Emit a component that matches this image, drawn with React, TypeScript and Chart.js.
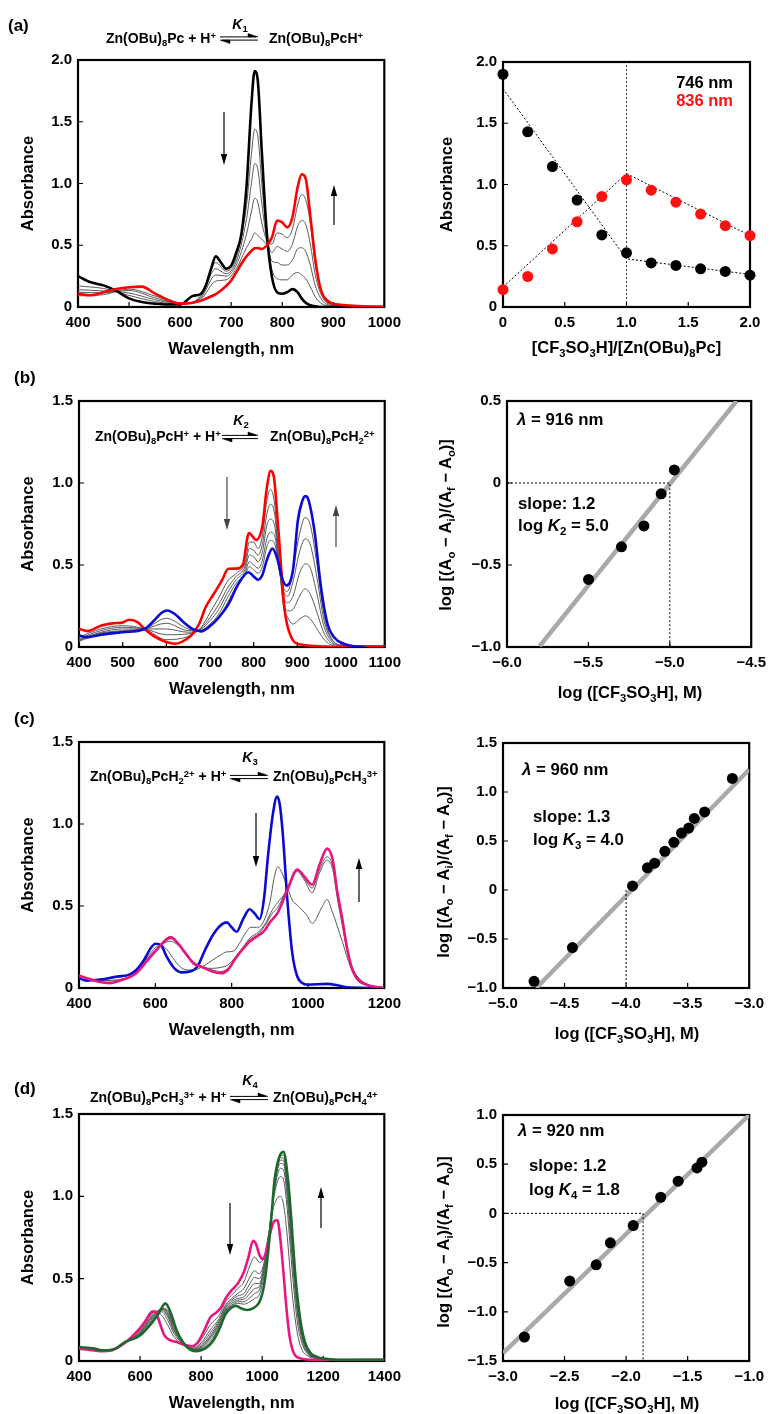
import React, { useEffect, useRef } from "react";
import { Chart, registerables } from "chart.js";
Chart.register(...registerables);

const FONT = '"Liberation Sans", Arial, Helvetica, sans-serif';

// ---------------- (a) spectra ----------------
const aWl = [400, 425, 450, 475, 500, 525, 550, 575, 600, 625, 640, 650, 660, 670, 680, 690, 700, 710, 720, 730, 740, 746, 752, 760, 770, 780, 790, 800, 810, 820, 830, 838, 846, 855, 865, 875, 890, 910, 940, 1000];
const aBlack = [0.25, 0.2, 0.175, 0.13, 0.07, 0.04, 0.027, 0.02, 0.02, 0.09, 0.105, 0.17, 0.3, 0.41, 0.36, 0.31, 0.335, 0.44, 0.59, 0.97, 1.66, 1.91, 1.84, 1.26, 0.59, 0.24, 0.12, 0.107, 0.12, 0.145, 0.12, 0.07, 0.035, 0.015, 0.005, 0, 0, 0, 0, 0];
const aRed = [0.107, 0.095, 0.12, 0.145, 0.16, 0.165, 0.11, 0.06, 0.027, 0.035, 0.05, 0.067, 0.085, 0.105, 0.134, 0.17, 0.215, 0.28, 0.35, 0.41, 0.456, 0.475, 0.478, 0.47, 0.5, 0.564, 0.7, 0.685, 0.645, 0.725, 0.966, 1.074, 1.04, 0.74, 0.38, 0.15, 0.046, 0.02, 0.01, 0];
const aGrayWl = [400, 450, 500, 550, 600, 640, 670, 690, 710, 730, 740, 746, 752, 760, 770, 780, 790, 800, 810, 820, 830, 838, 846, 855, 865, 880, 900, 950, 1000];
const aGray1 = [0.17, 0.15, 0.094, 0.045, 0.022, 0.09, 0.36, 0.29, 0.4, 0.82, 1.25, 1.44, 1.39, 1.0, 0.56, 0.3, 0.23, 0.22, 0.22, 0.26, 0.28, 0.26, 0.23, 0.165, 0.08, 0.02, 0.005, 0, 0];
const aGray2 = [0.14, 0.13, 0.113, 0.06, 0.024, 0.08, 0.31, 0.27, 0.37, 0.71, 1.01, 1.16, 1.12, 0.84, 0.54, 0.37, 0.36, 0.34, 0.34, 0.38, 0.47, 0.48, 0.45, 0.34, 0.17, 0.045, 0.01, 0, 0];
const aGray3 = [0.12, 0.115, 0.134, 0.075, 0.025, 0.07, 0.26, 0.25, 0.34, 0.59, 0.78, 0.88, 0.85, 0.68, 0.53, 0.44, 0.49, 0.47, 0.45, 0.51, 0.65, 0.7, 0.67, 0.51, 0.255, 0.07, 0.015, 0, 0];
const aGray4 = [0.09, 0.1, 0.145, 0.09, 0.026, 0.06, 0.21, 0.22, 0.31, 0.48, 0.55, 0.6, 0.58, 0.55, 0.51, 0.51, 0.6, 0.59, 0.56, 0.63, 0.82, 0.91, 0.87, 0.68, 0.335, 0.09, 0.02, 0, 0];

// ---------------- (a) titration ----------------
const aRatio = [0, 0.2, 0.4, 0.6, 0.8, 1.0, 1.2, 1.4, 1.6, 1.8, 2.0];
const aAbs746 = [1.9, 1.43, 1.146, 0.873, 0.588, 0.442, 0.36, 0.339, 0.312, 0.29, 0.26];
const aAbs836 = [0.141, 0.249, 0.474, 0.696, 0.902, 1.038, 0.954, 0.856, 0.759, 0.664, 0.583];
const aFitX = [0, 1, 2];
const aFit746 = [1.783, 0.393, 0.266];
const aFit836 = [0.163, 1.089, 0.583];
const aRefX = [1, 1];
const aRefY = [0, 2];

// ---------------- (b) spectra ----------------
const bRedWl = [400, 420, 450, 480, 500, 515, 535, 550, 575, 600, 620, 650, 660, 675, 690, 709, 727, 742, 760, 775, 789, 806, 820, 830, 839, 846, 856, 871, 886, 908, 950, 1000, 1100];
const bRed = [0.11, 0.097, 0.13, 0.145, 0.15, 0.166, 0.15, 0.11, 0.06, 0.03, 0.02, 0.055, 0.08, 0.14, 0.243, 0.325, 0.405, 0.477, 0.478, 0.5, 0.695, 0.653, 0.74, 0.97, 1.074, 1.04, 0.73, 0.223, 0.06, 0.015, 0.005, 0, 0];
const bBlueWl = [400, 420, 450, 500, 550, 575, 590, 602, 620, 640, 660, 680, 697, 720, 742, 765, 788, 800, 810, 820, 830, 843, 855, 865, 875, 890, 901, 910, 918, 925, 939, 954, 969, 984, 1006, 1030, 1055];
const bBlue = [0.07, 0.06, 0.075, 0.09, 0.11, 0.17, 0.21, 0.223, 0.2, 0.15, 0.11, 0.095, 0.12, 0.18, 0.26, 0.385, 0.456, 0.43, 0.41, 0.44, 0.53, 0.6, 0.53, 0.42, 0.375, 0.47, 0.77, 0.88, 0.92, 0.9, 0.71, 0.365, 0.14, 0.06, 0.02, 0.005, 0];
const bGrayWl = [400, 450, 500, 550, 600, 650, 680, 700, 720, 740, 760, 780, 790, 800, 810, 820, 830, 838, 848, 858, 868, 878, 890, 905, 918, 930, 945, 960, 975, 1000, 1050, 1100];
const bGray1 = [0.06, 0.11, 0.13, 0.11, 0.045, 0.065, 0.12, 0.21, 0.3, 0.4, 0.45, 0.51, 0.64, 0.64, 0.6, 0.68, 0.89, 0.96, 0.87, 0.53, 0.25, 0.18, 0.14, 0.17, 0.19, 0.17, 0.11, 0.05, 0.015, 0, 0.005, 0.01];
const bGray2 = [0.05, 0.1, 0.12, 0.11, 0.075, 0.08, 0.115, 0.18, 0.26, 0.36, 0.43, 0.49, 0.6, 0.59, 0.56, 0.63, 0.81, 0.87, 0.81, 0.52, 0.28, 0.22, 0.23, 0.31, 0.355, 0.32, 0.21, 0.09, 0.03, 0.005, 0.005, 0.01];
const bGray3 = [0.045, 0.09, 0.11, 0.11, 0.11, 0.09, 0.11, 0.16, 0.23, 0.33, 0.41, 0.47, 0.56, 0.55, 0.52, 0.58, 0.74, 0.78, 0.74, 0.5, 0.31, 0.27, 0.31, 0.45, 0.507, 0.48, 0.32, 0.135, 0.045, 0.005, 0.005, 0.01];
const bGray4 = [0.04, 0.085, 0.1, 0.11, 0.145, 0.1, 0.105, 0.14, 0.2, 0.3, 0.39, 0.45, 0.52, 0.5, 0.48, 0.53, 0.66, 0.7, 0.68, 0.48, 0.34, 0.31, 0.4, 0.58, 0.66, 0.62, 0.42, 0.175, 0.06, 0.01, 0.005, 0.01];
const bGray5 = [0.035, 0.08, 0.095, 0.11, 0.175, 0.11, 0.1, 0.125, 0.18, 0.27, 0.37, 0.44, 0.49, 0.47, 0.45, 0.49, 0.61, 0.65, 0.63, 0.47, 0.36, 0.34, 0.47, 0.69, 0.79, 0.74, 0.5, 0.21, 0.07, 0.01, 0.005, 0.01];

// ---------------- (b) Hill plot ----------------
const bLogC = [-5.499, -5.297, -5.159, -5.053, -4.972];
const bLogR = [-0.588, -0.389, -0.262, -0.066, 0.08];
const bFitX = [-5.8, -4.59];
const bFitY = [-0.995, 0.5];
const bRefX = [-6, -5.0, -5.0];
const bRefY = [0, 0, -1];

// ---------------- (c) spectra ----------------
const cBlueWl = [400, 420, 450, 500, 530, 550, 570, 590, 600, 615, 630, 650, 670, 690, 710, 730, 750, 770, 787, 800, 813, 830, 847, 860, 873, 885, 895, 908, 919, 926, 934, 946, 959, 972, 985, 1000, 1050, 1080, 1100, 1200];
const cBlue = [0.06, 0.045, 0.05, 0.07, 0.08, 0.11, 0.17, 0.25, 0.27, 0.26, 0.19, 0.12, 0.095, 0.1, 0.13, 0.23, 0.32, 0.38, 0.4, 0.37, 0.343, 0.42, 0.48, 0.455, 0.42, 0.55, 0.8, 1.06, 1.167, 1.12, 0.94, 0.535, 0.21, 0.07, 0.03, 0.02, 0.025, 0.015, 0.005, 0];
const cMagWl = [400, 450, 480, 500, 550, 580, 610, 640, 660, 680, 700, 720, 750, 770, 790, 810, 830, 850, 870, 886, 900, 920, 946, 972, 990, 1011, 1030, 1050, 1065, 1076, 1090, 1102, 1115, 1128, 1154, 1200];
const cMag = [0.075, 0.04, 0.03, 0.04, 0.09, 0.17, 0.25, 0.31, 0.27, 0.21, 0.15, 0.13, 0.1, 0.09, 0.11, 0.18, 0.24, 0.29, 0.32, 0.35, 0.4, 0.456, 0.596, 0.723, 0.68, 0.63, 0.75, 0.85, 0.78, 0.6, 0.42, 0.25, 0.12, 0.06, 0.02, 0];
const cGrayAWl = [400, 450, 500, 550, 580, 600, 615, 630, 650, 670, 690, 710, 730, 750, 770, 787, 805, 820, 835, 850, 865, 880, 900, 912, 921, 930, 946, 959, 972, 998, 1011, 1037, 1050, 1063, 1089, 1111, 1128, 1155, 1200];
const cGrayA = [0.07, 0.05, 0.065, 0.1, 0.19, 0.245, 0.26, 0.235, 0.17, 0.12, 0.11, 0.115, 0.14, 0.17, 0.2, 0.22, 0.225, 0.27, 0.33, 0.37, 0.37, 0.39, 0.52, 0.68, 0.74, 0.71, 0.616, 0.535, 0.505, 0.44, 0.394, 0.495, 0.54, 0.47, 0.29, 0.13, 0.05, 0.015, 0];
const cGrayWl = [400, 450, 500, 550, 580, 600, 620, 640, 660, 680, 700, 720, 750, 770, 790, 810, 830, 850, 870, 890, 905, 920, 940, 955, 972, 990, 1011, 1030, 1050, 1065, 1076, 1090, 1102, 1115, 1128, 1154, 1200];
const cGrayB = [0.075, 0.045, 0.05, 0.095, 0.18, 0.23, 0.27, 0.285, 0.26, 0.2, 0.15, 0.125, 0.12, 0.125, 0.14, 0.19, 0.25, 0.31, 0.34, 0.4, 0.47, 0.52, 0.58, 0.65, 0.71, 0.66, 0.58, 0.7, 0.78, 0.72, 0.56, 0.38, 0.23, 0.13, 0.07, 0.02, 0];
const cGrayC = [0.08, 0.043, 0.045, 0.092, 0.175, 0.22, 0.27, 0.3, 0.27, 0.21, 0.16, 0.135, 0.11, 0.1, 0.12, 0.185, 0.245, 0.3, 0.33, 0.39, 0.45, 0.49, 0.58, 0.66, 0.72, 0.67, 0.61, 0.72, 0.8, 0.74, 0.58, 0.4, 0.24, 0.135, 0.075, 0.025, 0];

// ---------------- (c) Hill plot ----------------
const cLogC = [-4.748, -4.436, -3.948, -3.827, -3.768, -3.685, -3.612, -3.55, -3.491, -3.446, -3.362, -3.137];
const cLogR = [-0.932, -0.588, 0.041, 0.226, 0.274, 0.395, 0.486, 0.581, 0.632, 0.73, 0.797, 1.139];
const cFitX = [-4.73, -3.0];
const cFitY = [-1.0, 1.23];
const cRefX = [-4.0, -4.0];
const cRefY = [-1, 0];

// ---------------- (d) spectra ----------------
const dMagWl = [400, 450, 480, 500, 530, 560, 600, 620, 640, 650, 660, 680, 700, 720, 750, 770, 790, 810, 830, 850, 865, 880, 900, 920, 940, 955, 970, 980, 990, 1000, 1010, 1025, 1040, 1050, 1060, 1070, 1080, 1090, 1100, 1110, 1130, 1200, 1300, 1400];
const dMag = [0.075, 0.064, 0.06, 0.062, 0.085, 0.125, 0.2, 0.25, 0.3, 0.3, 0.255, 0.155, 0.125, 0.115, 0.095, 0.09, 0.115, 0.185, 0.265, 0.295, 0.325, 0.38, 0.43, 0.47, 0.54, 0.63, 0.73, 0.71, 0.65, 0.62, 0.645, 0.77, 0.85, 0.855, 0.73, 0.53, 0.31, 0.145, 0.065, 0.03, 0.014, 0.005, 0.006, 0.008];
const dGreenWl = [400, 450, 480, 520, 550, 600, 640, 660, 683, 700, 720, 740, 760, 780, 800, 820, 840, 860, 880, 900, 915, 930, 950, 970, 990, 1000, 1010, 1020, 1030, 1040, 1055, 1070, 1085, 1095, 1110, 1125, 1140, 1160, 1180, 1200, 1250, 1400];
const dGreen = [0.085, 0.075, 0.065, 0.075, 0.115, 0.155, 0.235, 0.285, 0.35, 0.295, 0.185, 0.115, 0.075, 0.06, 0.065, 0.085, 0.125, 0.195, 0.285, 0.325, 0.335, 0.32, 0.31, 0.32, 0.355, 0.405, 0.505, 0.67, 0.87, 1.09, 1.234, 1.27, 1.093, 0.87, 0.49, 0.25, 0.115, 0.045, 0.025, 0.015, 0.008, 0.008];
const dGrayWl = [400, 500, 560, 600, 630, 650, 670, 690, 710, 740, 770, 800, 830, 860, 880, 900, 920, 940, 960, 975, 990, 1005, 1020, 1035, 1050, 1060, 1070, 1080, 1090, 1100, 1115, 1130, 1150, 1175, 1200, 1300, 1400];
const dGray1 = [0.08, 0.065, 0.12, 0.19, 0.27, 0.3, 0.28, 0.22, 0.15, 0.1, 0.083, 0.13, 0.22, 0.28, 0.36, 0.4, 0.44, 0.48, 0.58, 0.633, 0.6, 0.62, 0.76, 0.92, 0.99, 1.0, 0.95, 0.8, 0.58, 0.38, 0.17, 0.07, 0.03, 0.015, 0.01, 0.008, 0.008];
const dGray2 = [0.08, 0.065, 0.12, 0.18, 0.26, 0.3, 0.3, 0.25, 0.17, 0.105, 0.077, 0.11, 0.19, 0.26, 0.34, 0.38, 0.41, 0.44, 0.51, 0.548, 0.53, 0.59, 0.75, 0.96, 1.09, 1.12, 1.1, 0.96, 0.74, 0.51, 0.24, 0.11, 0.04, 0.018, 0.01, 0.008, 0.008];
const dGray3 = [0.08, 0.065, 0.12, 0.175, 0.25, 0.295, 0.31, 0.27, 0.185, 0.105, 0.075, 0.1, 0.17, 0.25, 0.33, 0.37, 0.395, 0.41, 0.47, 0.508, 0.5, 0.57, 0.74, 0.97, 1.13, 1.17, 1.16, 1.03, 0.81, 0.58, 0.29, 0.13, 0.045, 0.02, 0.01, 0.008, 0.008];
const dGray4 = [0.08, 0.065, 0.12, 0.17, 0.245, 0.29, 0.315, 0.28, 0.195, 0.11, 0.072, 0.09, 0.155, 0.24, 0.32, 0.36, 0.38, 0.39, 0.44, 0.47, 0.47, 0.56, 0.73, 0.975, 1.16, 1.2, 1.195, 1.07, 0.86, 0.63, 0.32, 0.15, 0.05, 0.022, 0.01, 0.008, 0.008];
const dGray5 = [0.08, 0.065, 0.12, 0.167, 0.24, 0.285, 0.32, 0.29, 0.205, 0.11, 0.07, 0.085, 0.145, 0.23, 0.31, 0.35, 0.37, 0.375, 0.41, 0.44, 0.45, 0.55, 0.72, 0.98, 1.17, 1.22, 1.215, 1.1, 0.89, 0.66, 0.34, 0.16, 0.055, 0.024, 0.01, 0.008, 0.008];
const dGray6 = [0.08, 0.065, 0.12, 0.164, 0.23, 0.28, 0.32, 0.3, 0.215, 0.11, 0.067, 0.08, 0.135, 0.22, 0.305, 0.34, 0.36, 0.36, 0.385, 0.41, 0.43, 0.53, 0.71, 0.98, 1.18, 1.235, 1.23, 1.12, 0.92, 0.69, 0.36, 0.17, 0.06, 0.026, 0.01, 0.008, 0.008];
const dGray7 = [0.08, 0.065, 0.12, 0.16, 0.22, 0.27, 0.32, 0.31, 0.225, 0.115, 0.065, 0.075, 0.12, 0.21, 0.3, 0.335, 0.35, 0.345, 0.36, 0.38, 0.4, 0.51, 0.7, 0.98, 1.19, 1.245, 1.25, 1.14, 0.95, 0.72, 0.38, 0.18, 0.065, 0.028, 0.01, 0.008, 0.008];

// ---------------- (d) Hill plot ----------------
const dLogC = [-2.826, -2.458, -2.243, -2.128, -1.942, -1.719, -1.577, -1.424, -1.384];
const dLogR = [-1.256, -0.688, -0.522, -0.299, -0.123, 0.164, 0.327, 0.462, 0.52];
const dFitX = [-3.0, -1.0];
const dFitY = [-1.419, 1.0];
const dRefX = [-3, -1.862, -1.862];
const dRefY = [0, 0, -1.5];

// ---------------- styling ----------------
const RED = "#ff0000";
const BLUE = "#0a0ad2";
const MAGENTA = "#e8177f";
const GREEN = "#1b6a2c";
const GRAY = "#5a5a5a";
const FIT = "#a9a9a9";

type Series = { x: number[]; y: number[]; color: string; width?: number; dash?: number[]; radius?: number; smooth?: boolean };
type Panel = {
  L: number; T: number; R: number; B: number; cl: number;
  xMin: number; xMax: number; xStep: number; yMin: number; yMax: number; yStep: number;
  xFmt: (v: number) => string; yFmt: (v: number) => string;
  yTitle?: string; yTitlePad?: number; xTitle?: string;
  series: Series[];
};

const fmt1 = (v: number) => (Math.abs(v) < 1e-9 ? "0" : v.toFixed(1).replace("-", "\u2212"));
const fmtInt = (v: number) => String(Math.round(v));
const zip = (x: number[], y: number[]) => x.map((v, i) => ({ x: v, y: y[i] }));

const PAD_TOP = 14;
const PAD_RIGHT = 20;
const HX = 60;

const line = (x: number[], y: number[], color: string, width = 1): Series => ({ x, y, color, width, smooth: true });

const panels: Panel[] = [
  {
    L: 78, T: 59, R: 388, B: 307, cl: 0,
    xMin: 400, xMax: 1000, xStep: 100, yMin: 0, yMax: 2, yStep: 0.5, xFmt: fmtInt, yFmt: fmt1,
    yTitle: "Absorbance", yTitlePad: 19, xTitle: "Wavelength, nm",
    series: [line(aWl, aRed, RED, 2.6), line(aWl, aBlack, "#000", 2.6), line(aGrayWl, aGray1, GRAY), line(aGrayWl, aGray2, GRAY), line(aGrayWl, aGray3, GRAY), line(aGrayWl, aGray4, GRAY)],
  },
  {
    L: 503, T: 61, R: 750, B: 307, cl: 400,
    xMin: 0, xMax: 2, xStep: 0.5, yMin: 0, yMax: 2, yStep: 0.5, xFmt: fmt1, yFmt: fmt1,
    yTitle: "Absorbance", yTitlePad: 38,
    series: [
      { x: aRatio, y: aAbs746, color: "#000", radius: 5.5 },
      { x: aRatio, y: aAbs836, color: "#ff1010", radius: 5.5 },
      { x: aFitX, y: aFit746, color: "#000", width: 1, dash: [2, 2] },
      { x: aFitX, y: aFit836, color: "#000", width: 1, dash: [2, 2] },
      { x: aRefX, y: aRefY, color: "#333", width: 1, dash: [2, 2] },
    ],
  },
  {
    L: 79, T: 400, R: 388, B: 647, cl: 0,
    xMin: 400, xMax: 1100, xStep: 100, yMin: 0, yMax: 1.5, yStep: 0.5, xFmt: fmtInt, yFmt: fmt1,
    yTitle: "Absorbance", yTitlePad: 19, xTitle: "Wavelength, nm",
    series: [line(bBlueWl, bBlue, BLUE, 2.6), line(bRedWl, bRed, RED, 2.6), line(bGrayWl, bGray1, GRAY), line(bGrayWl, bGray2, GRAY), line(bGrayWl, bGray3, GRAY), line(bGrayWl, bGray4, GRAY), line(bGrayWl, bGray5, GRAY)],
  },
  {
    L: 507, T: 400, R: 753, B: 647, cl: 400,
    xMin: -6, xMax: -4.5, xStep: 0.5, yMin: -1, yMax: 0.5, yStep: 0.5, xFmt: fmt1, yFmt: fmt1,
    series: [
      { x: bLogC, y: bLogR, color: "#000", radius: 5.5 },
      { x: bRefX, y: bRefY, color: "#000", width: 1, dash: [2, 2] },
      { x: bFitX, y: bFitY, color: FIT, width: 4.5 },
    ],
  },
  {
    L: 79, T: 741, R: 388, B: 988, cl: 0,
    xMin: 400, xMax: 1200, xStep: 200, yMin: 0, yMax: 1.5, yStep: 0.5, xFmt: fmtInt, yFmt: fmt1,
    yTitle: "Absorbance", yTitlePad: 19, xTitle: "Wavelength, nm",
    series: [line(cMagWl, cMag, MAGENTA, 2.6), line(cBlueWl, cBlue, BLUE, 2.6), line(cGrayAWl, cGrayA, GRAY), line(cGrayWl, cGrayB, GRAY), line(cGrayWl, cGrayC, GRAY)],
  },
  {
    L: 503, T: 742, R: 751, B: 988, cl: 400,
    xMin: -5, xMax: -3, xStep: 0.5, yMin: -1, yMax: 1.5, yStep: 0.5, xFmt: fmt1, yFmt: fmt1,
    series: [
      { x: cLogC, y: cLogR, color: "#000", radius: 5.5 },
      { x: cRefX, y: cRefY, color: "#000", width: 1, dash: [2, 2] },
      { x: cFitX, y: cFitY, color: FIT, width: 4.5 },
    ],
  },
  {
    L: 79, T: 1113, R: 388, B: 1361, cl: 0,
    xMin: 400, xMax: 1400, xStep: 200, yMin: 0, yMax: 1.5, yStep: 0.5, xFmt: fmtInt, yFmt: fmt1,
    yTitle: "Absorbance", yTitlePad: 19, xTitle: "Wavelength, nm",
    series: [line(dGreenWl, dGreen, GREEN, 2.6), line(dMagWl, dMag, MAGENTA, 2.6), line(dGrayWl, dGray1, GRAY), line(dGrayWl, dGray2, GRAY), line(dGrayWl, dGray3, GRAY), line(dGrayWl, dGray4, GRAY), line(dGrayWl, dGray5, GRAY), line(dGrayWl, dGray6, GRAY), line(dGrayWl, dGray7, GRAY)],
  },
  {
    L: 503, T: 1114, R: 751, B: 1361, cl: 400,
    xMin: -3, xMax: -1, xStep: 0.5, yMin: -1.5, yMax: 1, yStep: 0.5, xFmt: fmt1, yFmt: fmt1,
    series: [
      { x: dLogC, y: dLogR, color: "#000", radius: 5.5 },
      { x: dRefX, y: dRefY, color: "#000", width: 1, dash: [2, 2] },
      { x: dFitX, y: dFitY, color: FIT, width: 4.5 },
    ],
  },
];

const framePlugin = {
  id: "frameTicks",
  beforeDatasetsDraw(chart: any) {
    const { ctx, chartArea: a, scales } = chart;
    ctx.save();
    ctx.strokeStyle = "#000";
    ctx.lineWidth = 1.2;
    ctx.beginPath();
    scales.x.ticks.forEach((t: any) => {
      const px = scales.x.getPixelForValue(t.value);
      ctx.moveTo(px, a.bottom);
      ctx.lineTo(px, a.bottom - 5);
    });
    scales.y.ticks.forEach((t: any) => {
      const py = scales.y.getPixelForValue(t.value);
      ctx.moveTo(a.left, py);
      ctx.lineTo(a.left + 5, py);
    });
    ctx.stroke();
    ctx.lineWidth = 2.2;
    ctx.strokeRect(a.left, a.top, a.right - a.left, a.bottom - a.top);
    ctx.restore();
  },
};

function ChartPanel({ p }: { p: Panel }) {
  const ref = useRef<HTMLCanvasElement>(null);
  const width = p.R - p.cl + PAD_RIGHT;
  const height = p.B - p.T + PAD_TOP + HX;
  useEffect(() => {
    const wy = p.L - p.cl;
    const tickFont = { family: FONT, size: 15, weight: "bold" as const };
    const titleFont = { family: FONT, size: 16.5, weight: "bold" as const };
    const chart = new Chart(ref.current as HTMLCanvasElement, {
      type: "scatter",
      data: {
        datasets: p.series.map((s) => ({
          data: zip(s.x, s.y),
          showLine: !s.radius,
          borderColor: s.color,
          backgroundColor: s.color,
          borderWidth: s.width ?? 1,
          borderDash: s.dash ?? [],
          pointRadius: s.radius ?? 0,
          pointHoverRadius: 0,
          pointBackgroundColor: s.color,
          pointBorderColor: s.color,
          pointBorderWidth: 0,
          cubicInterpolationMode: s.smooth ? "monotone" : "default",
          tension: 0,
          fill: false,
          clip: s.radius ? false : 0,
        })) as any,
      },
      options: {
        animation: false,
        responsive: false,
        maintainAspectRatio: false,
        events: [],
        layout: { padding: { top: PAD_TOP, right: PAD_RIGHT, left: 0, bottom: 0 } },
        plugins: { legend: { display: false }, tooltip: { enabled: false } },
        scales: {
          x: {
            type: "linear",
            min: p.xMin,
            max: p.xMax,
            afterFit: (s: any) => { s.height = HX; },
            grid: { display: false, drawTicks: false },
            border: { display: false },
            ticks: { stepSize: p.xStep, autoSkip: false, maxRotation: 0, padding: 7, color: "#000", font: tickFont, callback: (v: any) => p.xFmt(Number(v)) },
            title: { display: !!p.xTitle, text: p.xTitle ?? "", color: "#000", font: titleFont, padding: { top: 0, bottom: 8 } },
          },
          y: {
            type: "linear",
            min: p.yMin,
            max: p.yMax,
            afterFit: (s: any) => { s.width = wy; },
            grid: { display: false, drawTicks: false },
            border: { display: false },
            ticks: { stepSize: p.yStep, autoSkip: false, padding: 6, color: "#000", font: tickFont, callback: (v: any) => p.yFmt(Number(v)) },
            title: { display: !!p.yTitle, text: p.yTitle ?? "", color: "#000", font: titleFont, padding: { top: p.yTitlePad ?? 0, bottom: 0 } },
          },
        },
      } as any,
      plugins: [framePlugin],
    });
    return () => chart.destroy();
  }, []);
  return (
    <canvas
      ref={ref}
      width={width}
      height={height}
      style={{ position: "absolute", left: p.cl, top: p.T - PAD_TOP, width, height }}
    />
  );
}

const subStyle: React.CSSProperties = { fontSize: "0.68em", position: "relative", top: "0.32em", lineHeight: 0 };
const supStyle: React.CSSProperties = { fontSize: "0.68em", position: "relative", top: "-0.42em", lineHeight: 0 };
const Sub = ({ children }: { children: React.ReactNode }) => <span style={subStyle}>{children}</span>;
const Sup = ({ children }: { children: React.ReactNode }) => <span style={supStyle}>{children}</span>;

function T({ x, y, size = 16, color = "#000", anchor = "left", rotate = false, weight = 700, children }: any) {
  const tx = anchor === "left" ? "0" : anchor === "center" ? "-50%" : "-100%";
  return (
    <div
      style={{
        position: "absolute", left: x, top: y,
        transform: `translate(${rotate ? "-50%" : tx}, -50%)${rotate ? " rotate(-90deg)" : ""}`,
        fontSize: size, fontWeight: weight, lineHeight: 1, whiteSpace: "nowrap", color, fontFamily: FONT,
      }}
    >
      {children}
    </div>
  );
}

const Zn = () => <>Zn(OBu)<Sub>8</Sub>Pc</>;

function EqArrow({ x1, x2, y }: { x1: number; x2: number; y: number }) {
  return (
    <g fill="#000" stroke="#000">
      <line x1={x1} y1={y - 1.6} x2={x2 - 2} y2={y - 1.6} strokeWidth={1} />
      <polygon points={`${x2},${y - 1.6} ${x2 - 10},${y - 5} ${x2 - 10},${y - 1.6}`} strokeWidth={0.5} />
      <line x1={x1 + 2} y1={y + 1.6} x2={x2} y2={y + 1.6} strokeWidth={1} />
      <polygon points={`${x1},${y + 1.6} ${x1 + 10},${y + 5} ${x1 + 10},${y + 1.6}`} strokeWidth={0.5} />
    </g>
  );
}

function VArrow({ x, y1, y2, color = "#000" }: { x: number; y1: number; y2: number; color?: string }) {
  const dir = y2 > y1 ? 1 : -1;
  return (
    <g fill={color} stroke={color}>
      <line x1={x} y1={y1} x2={x} y2={y2 - dir * 8} strokeWidth={1.2} />
      <polygon points={`${x},${y2} ${x - 3.2},${y2 - dir * 11} ${x + 3.2},${y2 - dir * 11}`} strokeWidth={0} />
    </g>
  );
}

const LogTitle = () => (
  <>log [(A<Sub>o</Sub> − A<Sub>i</Sub>)/(A<Sub>f</Sub> − A<Sub>o</Sub>)]</>
);
const LogX = () => (
  <>log ([CF<Sub>3</Sub>SO<Sub>3</Sub>H], M)</>
);

export default function App() {
  const EQ = 14;
  const LBL = 16.8;
  return (
    <div style={{ position: "absolute", left: 0, top: 0, width: 771, height: 1414, background: "#fff", overflow: "hidden", fontFamily: FONT }}>
      {panels.map((p, i) => (
        <ChartPanel key={i} p={p} />
      ))}

      <svg width={771} height={1414} style={{ position: "absolute", left: 0, top: 0, pointerEvents: "none" }}>
        <EqArrow x1={220} x2={258} y={38.5} />
        <EqArrow x1={222} x2={258} y={437} />
        <EqArrow x1={230} x2={268} y={777} />
        <EqArrow x1={230} x2={268} y={1098} />
        <VArrow x={224} y1={112} y2={165} />
        <VArrow x={334} y1={225} y2={185} />
        <VArrow x={227} y1={477} y2={530} color="#444" />
        <VArrow x={336} y1={547} y2={505} color="#444" />
        <VArrow x={256} y1={813} y2={867} />
        <VArrow x={359} y1={902} y2={858} />
        <VArrow x={230} y1={1203} y2={1255} />
        <VArrow x={321} y1={1228} y2={1187} />
      </svg>

      {/* panel letters */}
      <T x={8} y={25} size={17}>(a)</T>
      <T x={14} y={377} size={17}>(b)</T>
      <T x={14} y={718} size={17}>(c)</T>
      <T x={14} y={1088} size={17}>(d)</T>

      {/* equilibria */}
      <T x={106} y={38} size={EQ}><Zn /> + H<Sup>+</Sup></T>
      <T x={240} y={24} size={EQ} anchor="center"><i>K</i><Sub>1</Sub></T>
      <T x={269} y={38} size={EQ}><Zn />H<Sup>+</Sup></T>

      <T x={95} y={436} size={EQ}><Zn />H<Sup>+</Sup> + H<Sup>+</Sup></T>
      <T x={241} y={420} size={EQ} anchor="center"><i>K</i><Sub>2</Sub></T>
      <T x={270} y={436} size={EQ}><Zn />H<Sub>2</Sub><Sup>2+</Sup></T>

      <T x={90} y={776} size={EQ}><Zn />H<Sub>2</Sub><Sup>2+</Sup> + H<Sup>+</Sup></T>
      <T x={250} y={757} size={EQ} anchor="center"><i>K</i><Sub>3</Sub></T>
      <T x={273} y={776} size={EQ}><Zn />H<Sub>3</Sub><Sup>3+</Sup></T>

      <T x={90} y={1097} size={EQ}><Zn />H<Sub>3</Sub><Sup>3+</Sup> + H<Sup>+</Sup></T>
      <T x={250} y={1080} size={EQ} anchor="center"><i>K</i><Sub>4</Sub></T>
      <T x={273} y={1097} size={EQ}><Zn />H<Sub>4</Sub><Sup>4+</Sup></T>

      {/* right panel labels */}
      <T x={733} y={82} size={16.5} anchor="right">746 nm</T>
      <T x={733} y={100} size={16.5} anchor="right" color="#ff1010">836 nm</T>

      <T x={517} y={420} size={LBL}><i>λ</i> = 916 nm</T>
      <T x={518} y={504} size={LBL}>slope: 1.2</T>
      <T x={518} y={526} size={LBL}>log <i>K</i><Sub>2</Sub> = 5.0</T>

      <T x={522} y={770} size={LBL}><i>λ</i> = 960 nm</T>
      <T x={533} y={817} size={LBL}>slope: 1.3</T>
      <T x={533} y={840} size={LBL}>log <i>K</i><Sub>3</Sub> = 4.0</T>

      <T x={518} y={1131} size={LBL}><i>λ</i> = 920 nm</T>
      <T x={529} y={1166} size={LBL}>slope: 1.2</T>
      <T x={529} y={1190} size={LBL}>log <i>K</i><Sub>4</Sub> = 1.8</T>

      {/* right panel axis titles */}
      <T x={626.5} y={347} size={16.5} anchor="center">[CF<Sub>3</Sub>SO<Sub>3</Sub>H]/[<Zn />]</T>
      <T x={630} y={692} size={16.5} anchor="center"><LogX /></T>
      <T x={627} y={1033} size={16.5} anchor="center"><LogX /></T>
      <T x={627} y={1403} size={16.5} anchor="center"><LogX /></T>
      <T x={445} y={525} size={16.5} rotate><LogTitle /></T>
      <T x={443} y={872} size={16.5} rotate><LogTitle /></T>
      <T x={443} y={1242} size={16.5} rotate><LogTitle /></T>
    </div>
  );
}
